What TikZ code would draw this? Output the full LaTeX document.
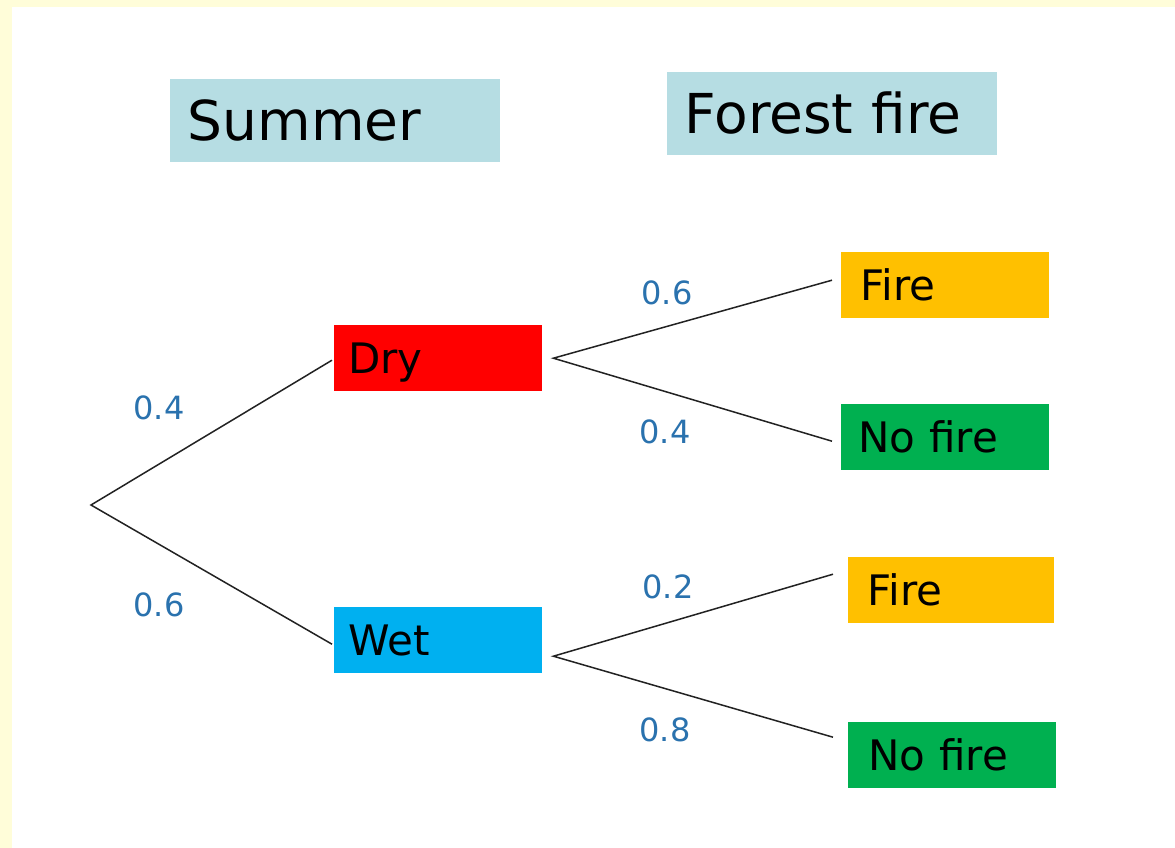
\documentclass[tikz,border=0pt]{standalone}
\usepackage{fontspec}
\setmainfont{DejaVu Sans}
\usetikzlibrary{calc}
\definecolor{paper}{HTML}{FFFDD9}
\definecolor{headbg}{HTML}{B6DDE3}
\definecolor{drybg}{HTML}{FF0000}
\definecolor{wetbg}{HTML}{00B0F0}
\definecolor{firebg}{HTML}{FFC000}
\definecolor{nofirebg}{HTML}{00B050}
\definecolor{prob}{HTML}{2A72AE}
\definecolor{branch}{HTML}{222222}
\tikzset{
  box/.style={rectangle, inner sep=0pt, text depth=0pt,
    anchor=north west, align=left},
  headbox/.style={box, fill=headbg, font=\fontsize{55}{60}\selectfont,
    text height=40pt,
    minimum width=330pt, minimum height=83pt, text width=295pt},
  statebox/.style={box, font=\fontsize{42}{46}\selectfont,
    text height=30.5pt,
    minimum width=208pt, minimum height=66pt, text width=178pt},
  problabel/.style={text=prob, font=\fontsize{32}{36}\selectfont, inner sep=0pt},
  edge/.style={draw=branch, line width=1.5pt}
}
\begin{document}
\begin{tikzpicture}[x=1pt, y=-1pt]
\useasboundingbox (0,0) rectangle (1175,848);
% page with its pale frame
\fill[paper] (0,0) rectangle (1175,848);
\fill[white] (12,7) rectangle (1175,848);

% column headings
\node[headbox] (summer) at (170,79) {Summer};
\node[headbox] (forest) at (667,72) {Forest fire};

% first stage
\node[statebox, fill=drybg, text width=180pt] (dry) at (334,325) {Dry};
\node[statebox, fill=wetbg, text width=180pt] (wet) at (334,607) {Wet};

% second stage
\node[statebox, fill=firebg, text width=170pt] (fire1) at (841,252) {Fire};
\node[statebox, fill=nofirebg, text width=174pt] (nofire1) at (841,404) {No fire};
\node[statebox, fill=firebg, text width=168pt, minimum width=206pt] (fire2) at (848,557) {Fire};
\node[statebox, fill=nofirebg, text width=168pt] (nofire2) at (848,722) {No fire};

% branch points
\coordinate (root) at (91,505);
\coordinate (dryin) at ($(dry.west)+(-2,2)$);
\coordinate (wetin) at ($(wet.west)+(-2,4)$);
\coordinate (dryout) at ($(dry.east)+(11,0)$);
\coordinate (wetout) at ($(wet.east)+(11,16)$);
\coordinate (fire1in) at ($(fire1.west)+(-9,-5)$);
\coordinate (nofire1in) at ($(nofire1.west)+(-9,4)$);
\coordinate (fire2in) at ($(fire2.west)+(-15,-16)$);
\coordinate (nofire2in) at ($(nofire2.west)+(-15,-18)$);

\draw[edge] (dryin) -- (root) -- (wetin);
\draw[edge] (fire1in) -- (dryout) -- (nofire1in);
\draw[edge] (fire2in) -- (wetout) -- (nofire2in);

% probabilities
\node[problabel] (p1) at (159,408) {0.4};
\node[problabel] (p2) at (159,605) {0.6};
\node[problabel] (p3) at (667,293) {0.6};
\node[problabel] (p4) at (665,432) {0.4};
\node[problabel] (p5) at (668,587) {0.2};
\node[problabel] (p6) at (665,730) {0.8};
\end{tikzpicture}
\end{document}
